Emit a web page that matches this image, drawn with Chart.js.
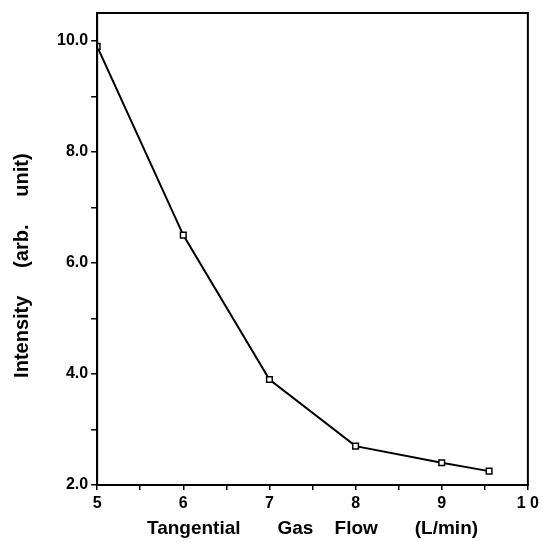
<!DOCTYPE html>
<html>
<head>
<meta charset="utf-8">
<script src="https://cdn.jsdelivr.net/npm/chart.js@4/dist/chart.umd.min.js"></script>
<style>
  html, body { margin: 0; padding: 0; background: #fff; }
  #wrap { width: 543px; height: 542px; }
</style>
</head>
<body>
<div id="wrap"><canvas id="myChart"></canvas></div>
<script>
// gas flow (L/min) and measured intensity
var gasFlow = [5, 6, 7, 8, 9, 9.55];
var intensity = [9.9, 6.5, 3.9, 2.7, 2.4, 2.25];

var xTickValues = [5, 6, 7, 8, 9, 10];
var xTickLabels = ['5', '6', '7', '8', '9', '1 0'];
var yTickValues = [2, 4, 6, 8, 10];
var yTickLabels = ['2.0', '4.0', '6.0', '8.0', '10.0'];

var points = gasFlow.map(function (v, i) { return { x: v, y: intensity[i] }; });

// box round the plot area
var frame = {
    id: 'frame',
    afterDraw: function (chart) {
        var a = chart.chartArea;
        var c = chart.ctx;
        c.save();
        c.strokeStyle = '#000';
        c.lineWidth = 2;
        c.strokeRect(a.left, a.top, a.right - a.left, a.bottom - a.top);
        c.restore();
    }
};

Chart.defaults.font.family = '"Liberation Sans", Arial, sans-serif';
Chart.defaults.color = '#000';

var ctx = document.getElementById('myChart').getContext('2d');
var chart = new Chart(ctx, {
    type: 'line',
    data: {
        datasets: [{
            data: points,
            borderColor: '#000',
            borderWidth: 2,
            backgroundColor: '#fff',
            pointStyle: 'rect',
            pointRadius: 4,
            pointBorderWidth: 1.5,
            pointBorderColor: '#000',
            pointBackgroundColor: '#fff',
            tension: 0
        }]
    },
    options: {
        responsive: true,
        maintainAspectRatio: false,
        animation: false,
        layout: { padding: { top: 13, right: 6, left: 10, bottom: 2 } },
        plugins: { legend: { display: false }, tooltip: { enabled: false } },
        scales: {
            x: {
                type: 'linear',
                min: 5,
                max: 10,
                afterBuildTicks: function (s) {
                    // half steps get a tick mark but no label
                    s.ticks = [5, 5.5, 6, 6.5, 7, 7.5, 8, 8.5, 9, 9.5, 10].map(function (v) { return { value: v }; });
                },
                ticks: {
                    font: { size: 16, weight: 'bold' },
                    padding: 4,
                    maxRotation: 0,
                    autoSkip: false,
                    callback: function (v) {
                        var i = xTickValues.indexOf(v);
                        return i < 0 ? '' : xTickLabels[i];
                    }
                },
                grid: { drawOnChartArea: false, color: '#000', tickLength: 5, lineWidth: 1.5 },
                border: { color: '#000', width: 2 },
                title: {
                    display: true,
                    text: 'Tangential       Gas    Flow       (L/min)',
                    font: { size: 19, weight: 'bold' },
                    padding: { top: 0, bottom: 0 }
                }
            },
            y: {
                min: 2,
                max: 10.5,
                afterBuildTicks: function (s) {
                    s.ticks = [2, 3, 4, 5, 6, 7, 8, 9, 10].map(function (v) { return { value: v }; });
                },
                ticks: {
                    font: { size: 16, weight: 'bold' },
                    padding: 3,
                    autoSkip: false,
                    callback: function (v) {
                        var i = yTickValues.indexOf(v);
                        return i < 0 ? '' : yTickLabels[i];
                    }
                },
                grid: { drawOnChartArea: false, color: '#000', tickLength: 6, lineWidth: 1.5 },
                border: { color: '#000', width: 2 },
                title: {
                    display: true,
                    text: 'Intensity     (arb.     unit)      ',
                    font: { size: 20, weight: 'bold' },
                    padding: { top: 0, bottom: 20 }
                }
            }
        }
    },
    plugins: [frame]
});
</script>
</body>
</html>
